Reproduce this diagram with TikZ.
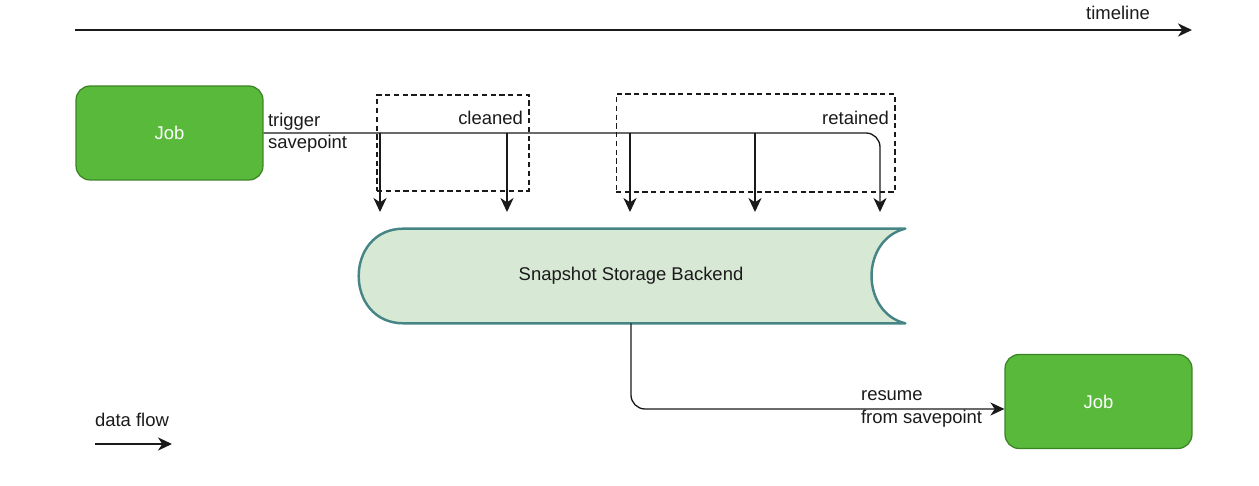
\documentclass[tikz,border=0pt]{standalone}
\usepackage{fontspec}
\setmainfont{Liberation Sans}
\usetikzlibrary{
  arrows.meta,
  positioning,
  calc,
  backgrounds
}
\definecolor{spJob}{HTML}{58B93A}
\definecolor{spJobLine}{HTML}{3B8424}
\definecolor{spStore}{HTML}{D7E8D5}
\definecolor{spStoreLine}{HTML}{468585}
\definecolor{spInk}{HTML}{1A1A1A}
\tikzset{
  sptext/.style={font=\fontsize{10.5}{12.6}\selectfont, text=spInk, inner sep=1pt},
  jobnode/.style={
    draw=spJobLine, fill=spJob, rounded corners=8pt, line width=0.7pt,
    minimum width=3.74cm, minimum height=1.88cm,
    font=\fontsize{10.5}{12.6}\selectfont, text=white
  },
  storenode/.style={minimum width=10.96cm, minimum height=1.88cm, sptext},
  storeline/.style={draw=spStoreLine, fill=spStore, line width=1.4pt, line join=round},
  zonebox/.style={draw=spInk, dash pattern=on 3pt off 2pt, line width=0.6pt},
  flowline/.style={-{Stealth[length=8pt, width=7.5pt, inset=2.5pt]}, line width=0.75pt, spInk},
  axisline/.style={-{Stealth[length=8pt, width=7.5pt, inset=2.5pt]}, line width=0.9pt, spInk},
  tag/.style={sptext, align=left}
}
\begin{document}
\begin{tikzpicture}[x=0.02cm, y=-0.02cm]
  \useasboundingbox (0,0) rectangle (1259,486);
  % timeline
  \coordinate (tlstart) at (75,30);
  \coordinate (tlend) at (1192,30);
  \draw[axisline] (tlstart) -- (tlend);
  \node[sptext] (tllabel) at (1118,13) {timeline};
  % jobs and storage
  \node[jobnode] (job1) at (169.5,133) {Job};
  \node[jobnode] (job2) at (1098.5,401.5) {Job};
  \node[storenode] (store) at (631,276) {Snapshot Storage Backend};
  \begin{scope}[on background layer]
    \path[storeline] ($(store.north west)+(47,0)$) -- (store.north east)
      .. controls ($(store.north east)+(-45,11)$) and ($(store.south east)+(-45,-11)$) .. (store.south east)
      -- ($(store.south west)+(47,0)$)
      .. controls ($(store.south west)+(-13,0)$) and ($(store.north west)+(-13,0)$) .. cycle;
  \end{scope}
  % savepoints
  \node[zonebox, minimum width=3.04cm, minimum height=1.92cm] (cleanzone) at (453,143) {};
  \node[zonebox, minimum width=5.58cm, minimum height=1.96cm] (keepzone) at (755.5,143) {};
  \node[sptext, anchor=east] (cleanlbl) at (525,118) {cleaned};
  \node[sptext, anchor=east] (keeplbl) at (891,118) {retained};
  \coordinate (drop5) at (880,212);
  \draw[flowline, rounded corners=8pt] (job1.east) -| (drop5);
  \foreach \x [count=\i] in {380,507,630,755} {
    \coordinate (tap\i) at (\x,133);
    \coordinate (drop\i) at (\x,212);
    \draw[flowline] (tap\i) -- (drop\i);
  }
  \node[tag, anchor=west] (triglbl) at (266,133) {trigger\\savepoint};
  % resume
  \coordinate (job2in) at ($(job2.west)+(0,7.5)$);
  \draw[flowline, rounded corners=8pt] (store.south) |- (job2in);
  \node[tag, anchor=west] (resumelbl) at (859,409) {resume\\from savepoint};
  % legend
  \node[sptext] (legend) at (132,420) {data flow};
  \coordinate (legstart) at (95,444);
  \coordinate (legend end) at (172,444);
  \draw[flowline] (legstart) -- (legend end);
\end{tikzpicture}
\end{document}
